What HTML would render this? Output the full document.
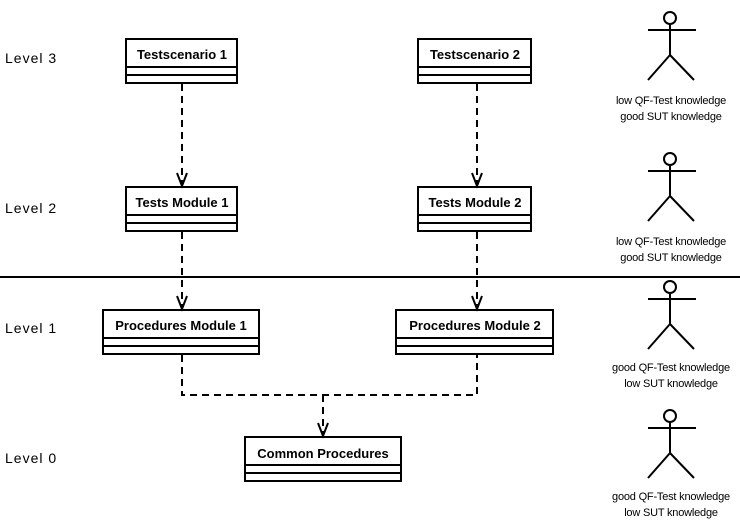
<!DOCTYPE html>
<html><head><meta charset="utf-8"><style>
html,body{margin:0;padding:0;background:#fff;}
svg{display:block;}
.lvl{font-family:"Liberation Sans",sans-serif;font-size:14px;letter-spacing:1px;fill:#000;}
.bt{font-family:"Liberation Sans",sans-serif;font-size:13px;font-weight:bold;fill:#000;text-anchor:middle;}
.at{font-family:"Liberation Sans",sans-serif;font-size:11px;fill:#000;text-anchor:middle;letter-spacing:-0.2px;}
</style></head><body>
<svg width="740" height="524" viewBox="0 0 740 524" xmlns="http://www.w3.org/2000/svg">
<defs>
<g id="actor" stroke="#000" stroke-width="2" fill="none">
<circle cx="670" cy="0" r="6"/>
<line x1="670" y1="6" x2="670" y2="37"/>
<line x1="648" y1="12" x2="696" y2="12"/>
<line x1="670" y1="37" x2="648" y2="62"/>
<line x1="670" y1="37" x2="694" y2="62"/>
</g>
</defs>
<text class="lvl" x="5" y="63">Level 3</text>
<text class="lvl" x="5" y="213">Level 2</text>
<text class="lvl" x="5" y="333">Level 1</text>
<text class="lvl" x="5" y="463">Level 0</text>

<line x1="0" y1="277" x2="740" y2="277" stroke="#000" stroke-width="2"/>

<g stroke="#000" stroke-width="2" fill="#fff">
<rect x="126" y="39" width="111" height="44"/><line x1="126" y1="67" x2="237" y2="67"/><line x1="126" y1="75" x2="237" y2="75"/>
<rect x="418" y="39" width="113" height="44"/><line x1="418" y1="67" x2="531" y2="67"/><line x1="418" y1="75" x2="531" y2="75"/>
<rect x="126" y="187" width="111" height="44"/><line x1="126" y1="215" x2="237" y2="215"/><line x1="126" y1="223" x2="237" y2="223"/>
<rect x="418" y="187" width="113" height="44"/><line x1="418" y1="215" x2="531" y2="215"/><line x1="418" y1="223" x2="531" y2="223"/>
<rect x="103" y="310" width="156" height="44"/><line x1="103" y1="338" x2="259" y2="338"/><line x1="103" y1="346" x2="259" y2="346"/>
<rect x="396" y="310" width="157" height="44"/><line x1="396" y1="338" x2="553" y2="338"/><line x1="396" y1="346" x2="553" y2="346"/>
<rect x="245" y="437" width="156" height="44"/><line x1="245" y1="465" x2="401" y2="465"/><line x1="245" y1="473" x2="401" y2="473"/>
</g>
<text class="bt" x="182" y="59">Testscenario 1</text>
<text class="bt" x="475" y="59">Testscenario 2</text>
<text class="bt" x="182" y="207">Tests Module 1</text>
<text class="bt" x="475" y="207">Tests Module 2</text>
<text class="bt" x="181" y="330">Procedures Module 1</text>
<text class="bt" x="475" y="330">Procedures Module 2</text>
<text class="bt" x="323" y="458">Common Procedures</text>

<g stroke="#000" stroke-width="2" fill="none">
<g stroke-dasharray="7,5">
<line x1="182" y1="84" x2="182" y2="186"/>
<line x1="477" y1="84" x2="477" y2="186"/>
<line x1="182" y1="232" x2="182" y2="309"/>
<line x1="477" y1="232" x2="477" y2="309"/>
<polyline points="182,355 182,395 477,395 477,355"/>
<line x1="323" y1="395" x2="323" y2="436"/>
</g>
<polyline points="177,173 182,186 187,173"/>
<polyline points="472,173 477,186 482,173"/>
<polyline points="177,296 182,309 187,296"/>
<polyline points="472,296 477,309 482,296"/>
<polyline points="318,423 323,436 328,423"/>
</g>

<use href="#actor" y="18"/>
<text class="at" x="671" y="104">low QF-Test knowledge</text>
<text class="at" x="671" y="120">good SUT knowledge</text>
<use href="#actor" y="159"/>
<text class="at" x="671" y="245">low QF-Test knowledge</text>
<text class="at" x="671" y="261">good SUT knowledge</text>
<use href="#actor" y="287"/>
<text class="at" x="671" y="371">good QF-Test knowledge</text>
<text class="at" x="671" y="387">low SUT knowledge</text>
<use href="#actor" y="416"/>
<text class="at" x="671" y="500">good QF-Test knowledge</text>
<text class="at" x="671" y="516">low SUT knowledge</text>
</svg>
</body></html>
